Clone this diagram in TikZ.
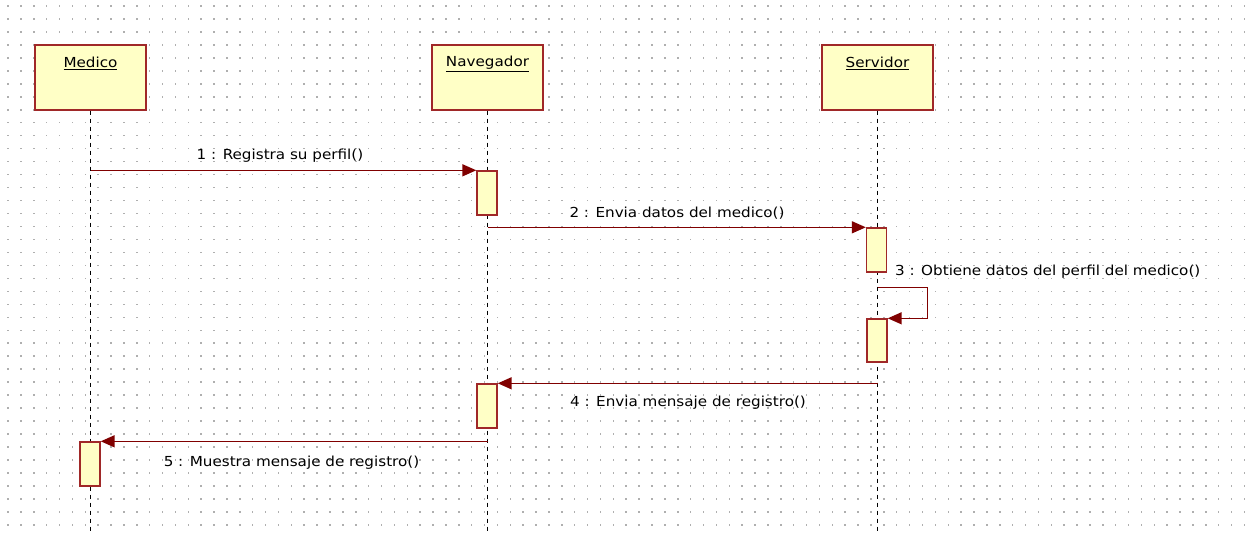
\documentclass[tikz,border=0pt]{standalone}
\usepackage{fontspec}
\setmainfont{DejaVu Sans}[FakeStretch=1.1]
\usetikzlibrary{arrows.meta,calc}
\definecolor{boxfill}{RGB}{255,255,198}
\definecolor{boxline}{RGB}{160,40,40}
\definecolor{msgcol}{RGB}{128,0,0}
\definecolor{dotcol}{RGB}{175,175,175}
\tikzset{
  hdr/.style={draw=boxline,fill=boxfill,line width=1.4pt,minimum width=111pt,minimum height=65pt,inner sep=0pt},
  act/.style={draw=boxline,fill=boxfill,line width=1.4pt,minimum width=20pt,inner sep=0pt},
  lifeline/.style={black,line width=1.7pt,dash pattern=on 4pt off 4pt},
  msg/.style={msgcol,line width=1.5pt,-{Triangle[length=14pt,width=12pt]}},
  lbl/.style={font=\fontsize{13.8}{15}\selectfont,inner sep=0pt,text=black},
}
\begin{document}
\begin{tikzpicture}[x=1pt,y=-1pt]
\useasboundingbox (0,0) rectangle (1248,533);
\fill[white] (0,0) rectangle (1248,533);
% dotted grid
\foreach \i in {0,...,96}{
  \foreach \j in {0,...,40}{
    \fill[dotcol] ({8+12.88*\i-0.75},{6+12.97*\j-0.75}) rectangle ++(1.5,1.5);
  }
}
% headers
\node[hdr] (medico) at (90.5,77.5) {};
\node[hdr] (nav) at (487.5,77.5) {};
\node[hdr] (serv) at (877.5,77.5) {};
\node[lbl] (medicoT) at ($(medico.north)+(0,19.5)$) {\underline{Medico}};
\node[lbl] (navT) at ($(nav.north)+(0,19.5)$) {\underline{Navegador}};
\node[lbl] (servT) at ($(serv.north)+(0,19.5)$) {\underline{Servidor}};
% lifelines
\coordinate (mEnd) at (90.5,533);
\coordinate (nEnd) at (487.5,533);
\coordinate (sEnd) at (877.5,533);
\draw[lifeline] (medico.south) -- (mEnd);
\draw[lifeline] (nav.south) -- (nEnd);
\draw[lifeline] (serv.south) -- (sEnd);
% activations
\node[act,minimum height=44pt] (act1) at (487,193) {};
\node[act,minimum height=44pt] (act2) at (876.5,250) {};
\node[act,minimum height=43pt] (act3) at (877,340.5) {};
\node[act,minimum height=44pt] (act4) at (487,406) {};
\node[act,minimum height=44pt] (act5) at (90,464) {};
% messages
\draw[msg] (medico.south |- act1.north west) -- (act1.north west);
\draw[msg] (nav.south |- act2.north west) -- (act2.north west);
\draw[msg] ($(serv.south |- act2.south)+(0,15)$) -- ++(50,0) |- (act3.north east);
\draw[msg] (serv.south |- act4.north east) -- (act4.north east);
\draw[msg] (nav.south |- act5.north east) -- (act5.north east);
% labels
\node[lbl] (l1) at (280,156) {1 : Registra su perfil()};
\node[lbl] (l2) at (677,213) {2 : Envia datos del medico()};
\node[lbl,anchor=west] (l3) at (895,272) {3 : Obtiene datos del perfil del medico()};
\node[lbl] (l4) at (688,403) {4 : Envia mensaje de registro()};
\node[lbl] (l5) at (291.5,463) {5 : Muestra mensaje de registro()};
\end{tikzpicture}
\end{document}
